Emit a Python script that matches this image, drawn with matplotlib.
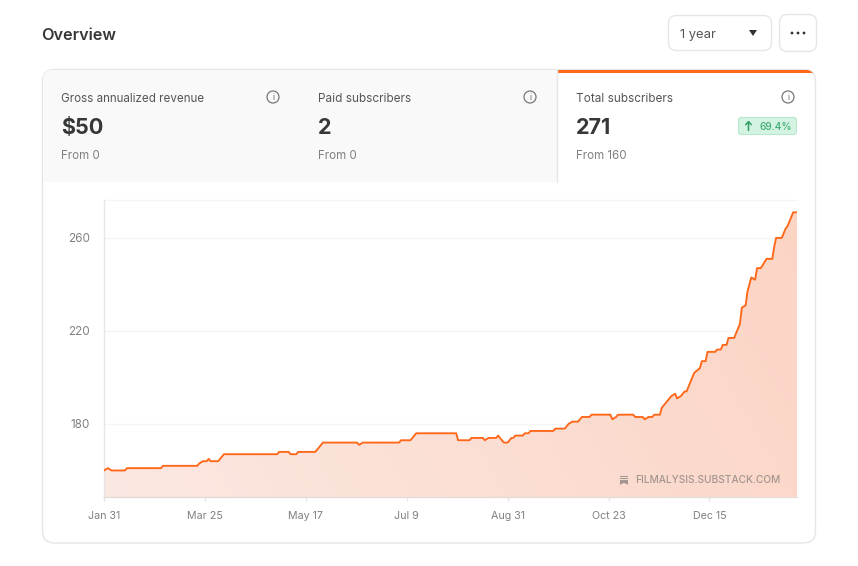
import numpy as np
import matplotlib
matplotlib.use("Agg")
import matplotlib.pyplot as plt
from matplotlib.patches import FancyBboxPatch, Circle, Rectangle, Polygon

plt.rcParams['font.family'] = ['Inter', 'DejaVu Sans']

# Data: days since Jan 31 and total subscribers
days = [0, 2, 4, 11, 12, 30, 31, 49, 50, 52, 54, 55, 56, 60, 63, 91, 92, 97, 98, 101, 102, 111, 115,
        133, 134, 136, 155, 156, 161, 164, 185, 186, 192, 193, 199, 200, 202, 206, 207, 208, 210, 212,
        214, 215, 216, 220, 221, 223, 224, 236, 237, 242, 244, 246, 249, 251, 255, 256, 266, 267, 269,
        270, 278, 279, 283, 284, 286, 288, 289, 292, 293, 295, 297, 298, 300, 301, 303, 305, 306, 308,
        310, 313, 314, 316, 317, 321, 322, 324, 325, 327, 328, 331, 333, 334, 335, 337, 338, 340, 342,
        343, 345, 348, 351, 352, 353, 356, 358, 359, 361, 362, 364]
subscribers = [160, 161, 160, 160, 161, 161, 162, 162, 163, 164, 164, 165, 164, 164, 167, 167, 168, 168,
               167, 167, 168, 168, 172, 172, 171, 172, 172, 173, 173, 176, 176, 173, 173, 174, 174, 173,
               174, 174, 175, 174, 172, 172, 174, 174, 175, 175, 176, 176, 177, 177, 178, 178, 180, 181,
               181, 183, 183, 184, 184, 182, 183, 184, 184, 183, 183, 182, 183, 183, 184, 184, 187, 189,
               191, 192, 193, 191, 192, 194, 194, 198, 202, 204, 207, 207, 211, 211, 212, 212, 214, 214,
               217, 217, 221, 223, 230, 231, 237, 243, 242, 247, 247, 251, 251, 256, 260, 260, 264, 265,
               269, 271, 271]
x_tick_days = [0, 53, 106, 159, 212, 265, 318]
x_tick_labels = ["Jan 31", "Mar 25", "May 17", "Jul 9", "Aug 31", "Oct 23", "Dec 15"]
y_ticks = [180, 220, 260]

ORANGE = "#ff6719"
DARK = "#363737"
MID = "#555657"
GREY = "#808080"
BORDER = "#e6e6e6"

W, H = 858, 566
fig = plt.figure(figsize=(W / 100, H / 100), dpi=100, facecolor="white")
bg = fig.add_axes([0, 0, 1, 1], zorder=1)
bg.set_xlim(0, W)
bg.set_ylim(H, 0)
bg.axis("off")


def box(x0, y0, x1, y1, r, fc="white", ec=BORDER, lw=1.0, z=1):
    p = FancyBboxPatch((x0, y0), x1 - x0, y1 - y0, boxstyle=f"round,pad=0,rounding_size={r}",
                       fc=fc, ec=ec, lw=lw, zorder=z)
    bg.add_patch(p)
    return p


def txt(x, y, s, size, color=DARK, weight="normal", ha="left", z=5, **kw):
    bg.text(x, y, s, fontsize=size * 0.72, color=color, fontweight=weight, ha=ha, va="center", zorder=z, **kw)


def info(cx, cy):
    bg.add_patch(Circle((cx, cy), 6, fc="none", ec="#777777", lw=0.9, zorder=5))
    bg.text(cx, cy + 0.3, "i", fontsize=6.2, color="#666666", ha="center", va="center", zorder=5)


# Header
txt(41.5, 35, "Overview", 16.2, color=DARK, weight="semibold")
box(668.5, 15.5, 771.5, 50.5, 8)
txt(680, 35, "1 year", 13, color=MID)
bg.add_patch(Polygon([[749, 30], [757, 30], [753, 36]], closed=True, fc="#333333", ec="none", zorder=5))
box(779.5, 14.5, 816.5, 51.5, 8)
for cx in (792, 798, 804):
    bg.add_patch(Circle((cx, 33), 1.4, fc="#333333", ec="none", zorder=5))

# Card
card = box(42.5, 69.5, 815.5, 543, 12)
panel = Rectangle((43, 70), 514, 112, fc="#f9f9f9", ec="none", zorder=2)
bg.add_patch(panel)
panel.set_clip_path(card)
top_bar = Rectangle((557.5, 70), 258, 3.2, fc=ORANGE, ec="none", zorder=3)
bg.add_patch(top_bar)
top_bar.set_clip_path(card)
bg.plot([557, 557], [70, 182], color=BORDER, lw=1, zorder=3)

# Metric tiles
txt(61, 98.5, "Gross annualized revenue", 11.6, color=MID)
txt(61, 127.7, "$50", 21.6, weight="bold")
txt(61, 156, "From 0", 11.6, color=GREY)
info(273, 97)
txt(318, 98.5, "Paid subscribers", 11.8, color=MID)
txt(318, 127.7, "2", 21.6, weight="bold")
txt(318, 156, "From 0", 11.6, color=GREY)
info(530, 97)
txt(576, 98.5, "Total subscribers", 11.8, color=MID)
txt(576, 127.7, "271", 21.6, weight="bold")
txt(576, 156, "From 160", 11.6, color=GREY)
info(788, 97)
box(738.5, 117.5, 796.5, 134.5, 3, fc="#d5f3e2", ec="#b5e8cc", lw=0.8)
bg.annotate("", xy=(748.5, 120.5), xytext=(748.5, 130.5), zorder=6,
            arrowprops=dict(arrowstyle="->,head_width=0.2,head_length=0.22", color="#2f9e63", lw=1.1,
                            shrinkA=0, shrinkB=0))
txt(759, 126.8, "69.4%", 10.2, color="#3faf75", weight="medium")

# Chart
ax_l, ax_r, ax_t, ax_b = 104, 797, 200, 497
ax = fig.add_axes([ax_l / W, 1 - ax_b / H, (ax_r - ax_l) / W, (ax_b - ax_t) / H], zorder=2)
ax.patch.set_alpha(0)
ax.set_xlim(0, 364)
ax.set_ylim(148.6, 276.3)

for s in ("top", "right"):
    ax.spines[s].set_visible(False)
ax.spines["left"].set_color(BORDER)
ax.spines["bottom"].set_color("#e3dcd9")
ax.spines["left"].set_linewidth(1)
ax.spines["bottom"].set_linewidth(1)

ax.set_xticks(x_tick_days, x_tick_labels, fontsize=7.7, color=GREY)
ax.set_yticks(y_ticks, [str(v) for v in y_ticks], fontsize=8.4, color=GREY)
ax.tick_params(axis="x", length=3, width=1, color=BORDER, pad=7)
ax.tick_params(axis="y", length=0, pad=10)
ax.grid(axis="y", color="#f5f5f5", lw=1, zorder=0)
ax.axhline(276.3, color="#f5f5f5", lw=1, clip_on=False, zorder=0)
ax.set_axisbelow(True)

area = ax.fill_between(days, subscribers, 148.6, facecolor="none", edgecolor="none")
# Diagonal gradient: lightest bottom-left, strongest upper-right
gx, gy = np.meshgrid(np.linspace(0, 1, 300), np.linspace(0, 1, 200))
t = (0.8 * gx + 0.2 * gy)[..., None]
left = np.array([251, 232, 226]) / 255
right = np.array([252, 212, 196]) / 255
img = left + (right - left) * t
im = ax.imshow(img, extent=(0, 364, 148.6, 276.3), aspect="auto", origin="lower", zorder=1)
ax.set_xlim(0, 364)
ax.set_ylim(148.6, 276.3)
im.set_clip_path(area.get_paths()[0], transform=ax.transData)
ax.plot(days, subscribers, color=ORANGE, lw=1.35, solid_joinstyle="round", zorder=3)

# Watermark
wm = fig.add_axes([0, 0, 1, 1], zorder=3)
wm.set_xlim(0, W)
wm.set_ylim(H, 0)
wm.axis("off")
wm.patch.set_alpha(0)
WM_COLOR = "#a3958f"
wm.add_patch(Rectangle((620, 475.5), 8, 1.4, fc=WM_COLOR, ec="none"))
wm.add_patch(Rectangle((620, 477.8), 8, 1.4, fc=WM_COLOR, ec="none"))
wm.add_patch(Polygon([[620, 480], [628, 480], [628, 484.8], [624, 482.8], [620, 484.8]], fc=WM_COLOR, ec="none"))
wm.text(635, 479.8, "FILMALYSIS.SUBSTACK.COM", fontsize=7.3, color=WM_COLOR, ha="left", va="center",
        fontweight="medium")

fig.savefig("out.png", dpi=100, facecolor="white")
